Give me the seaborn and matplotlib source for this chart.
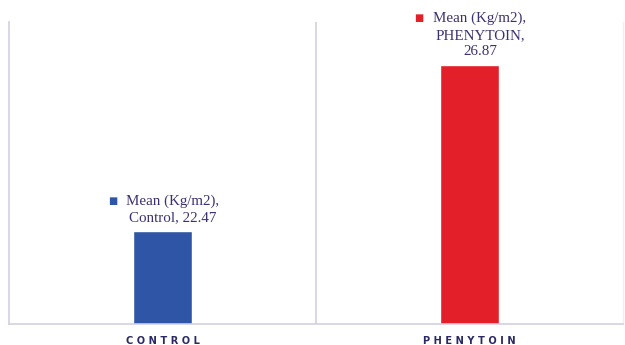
import matplotlib
matplotlib.use("Agg")
import matplotlib.pyplot as plt
import seaborn as sns
import pandas as pd

categories = ["Control", "PHENYTOIN"]
tick_labels = ["CONTROL", "PHENYTOIN"]
values = [22.47, 26.87]
series_name = "Mean (Kg/m2)"
colors = ["#2f56a6", "#e3202a"]

sns.set_theme(style="white")
plt.rcParams["font.family"] = ["DejaVu Sans"]

df = pd.DataFrame({"cat": categories, "val": values})

fig = plt.figure(figsize=(6.25, 3.45), dpi=100)
ax = fig.add_axes([9/625, 1-324/345, (623-9)/625, (324-22)/345])

sns.barplot(data=df, x="cat", y="val", hue="cat", palette=colors,
            width=0.19, legend=False, ax=ax, saturation=1)

ax.set_ylim(20, 28)
ax.set_xlim(-0.5, 1.5)
ax.set_yticks([])
ax.set_xlabel("")
ax.set_ylabel("")
ax.set_xticks(range(len(tick_labels)))
ax.set_xticklabels([" ".join(t) for t in tick_labels], fontsize=7.1,
                   fontweight="bold", color="#2a2966")
ax.tick_params(axis="x", length=0, pad=9)

spine_c = "#d3cfe2"
for s in ["left", "bottom"]:
    ax.spines[s].set_color(spine_c)
    ax.spines[s].set_linewidth(1.2)
ax.spines["top"].set_visible(False)
ax.spines["right"].set_color("#f0eef5")
ax.spines["right"].set_linewidth(1.0)
ax.axvline(0.5, color=spine_c, lw=1.2)

txt_c = "#3d3070"
sq_dx = [-35.5, -36.5]
pitch = 12.0
for i, (c, v, col) in enumerate(zip(categories, values, colors)):
    if i == 0:
        lbl = f"{series_name},\n{c}, {v:.2f}"
    else:
        lbl = f"{series_name},\n{c},\n{v:.2f}"
    ax.annotate(lbl, xy=(i, v), xytext=(7.6, 4.5), textcoords="offset points",
                ha="center", va="bottom", fontsize=10.8, color=txt_c,
                family="Liberation Serif", linespacing=1.36, multialignment="center")
    nlines = lbl.count("\n") + 1
    ax.annotate("\u25A0", xy=(i, v), xytext=(sq_dx[i], 4.5 + (nlines - 1) * pitch + 1.5),
                textcoords="offset points", ha="center", va="bottom",
                fontsize=7, color=col, family="DejaVu Sans")

fig.savefig("out.png", dpi=100)
